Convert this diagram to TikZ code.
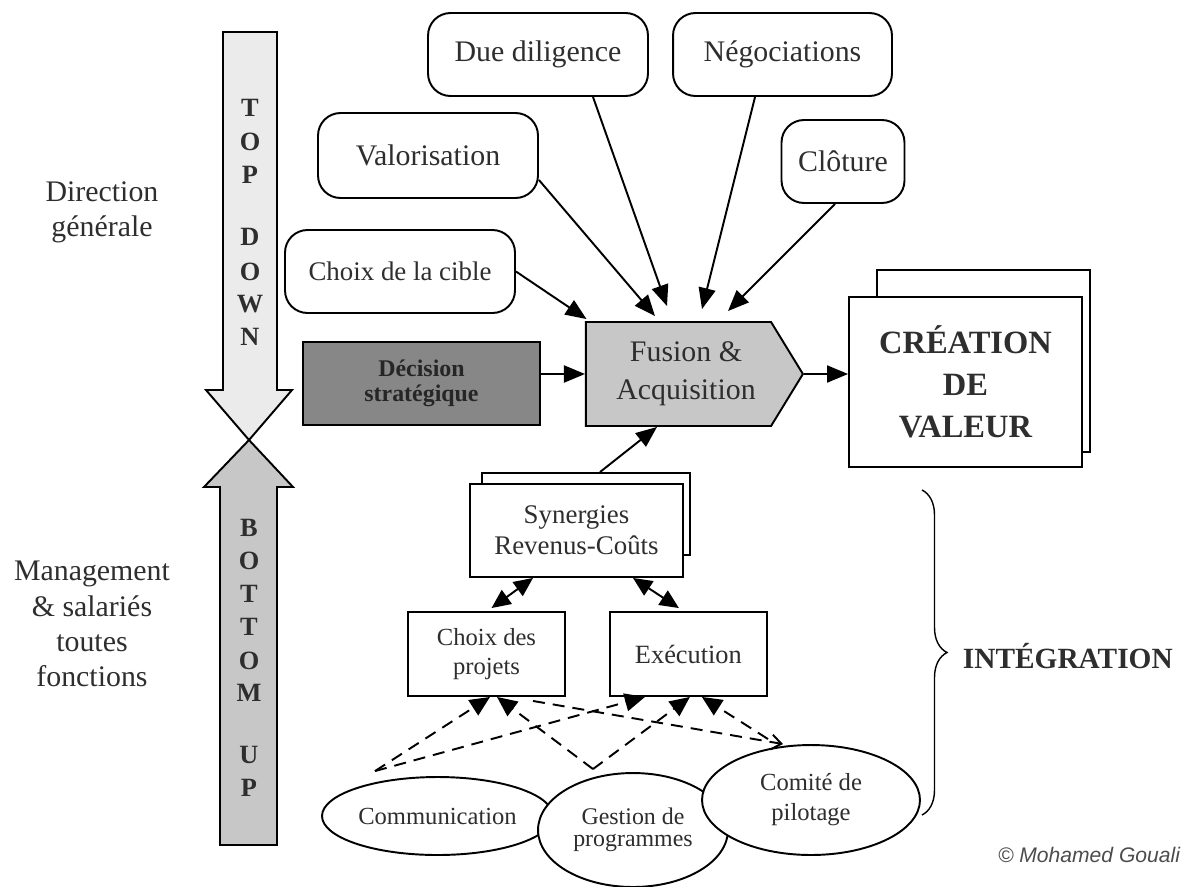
\documentclass[tikz,border=0pt]{standalone}
\usepackage{fontspec}
\setmainfont{Liberation Serif}
\newfontfamily\signature{Liberation Sans}
\usetikzlibrary{arrows.meta,positioning,shapes.geometric,shapes.symbols,decorations.pathreplacing}

\begin{document}
\begin{tikzpicture}[x=0.02cm,y=-0.02cm,line width=1.1pt,text=black!82,
  etape/.style={draw, rounded corners=0.45cm, fill=white, minimum height=1.66cm, inner sep=0pt, font=\fontsize{17}{20}\selectfont},
  boite/.style={draw, fill=white, inner sep=0pt, align=center},
  bulle/.style={draw, ellipse, fill=white, inner sep=0pt, align=center, font=\fontsize{14}{17}\selectfont},
  fleche/.style={-{Triangle[length=0.42cm,width=0.34cm]}},
  double fleche/.style={{Triangle[length=0.38cm,width=0.34cm]}-{Triangle[length=0.38cm,width=0.34cm]}},
  pointille/.style={dash pattern=on 0.24cm off 0.16cm, -{Triangle[length=0.4cm,width=0.36cm]}},
  lettre/.style={font=\bfseries\fontsize{15}{15}\selectfont},
  libelle/.style={align=center, font=\fontsize{17}{20}\selectfont},
]
\useasboundingbox (0,0) rectangle (1192,886);

\draw[fill=black!8] (223,32) -- (277,32) -- (277,390) -- (292,390) -- (249,440) -- (206,390) -- (223,390) -- cycle;
\draw[fill=black!22] (249,440) -- (293,487) -- (277,487) -- (277,845) -- (220,845) -- (220,487) -- (204,487) -- cycle;
\foreach \l/\y in {T/108,O/142,P/175,D/237,O/272,W/304,N/337}
  \node[lettre] (haut\y) at (250,\y) {\l};
\foreach \l/\y in {B/528,O/561,T/594,T/627,O/661,M/693,U/755,P/788}
  \node[lettre] (bas\y) at (249,\y) {\l};

\node[libelle] (direction) at (102,212) {Direction\\générale};
\node[libelle] (management) at (92,624) {Management\\\& salariés\\toutes\\fonctions};

\node[etape, minimum width=4.4cm] (due) at (538,54.5) {Due diligence};
\node[etape, minimum width=4.38cm] (nego) at (782.5,54.5) {Négociations};
\node[etape, minimum width=4.4cm, minimum height=1.7cm] (valo) at (428,155.5) {Valorisation};
\node[etape, minimum width=2.46cm] (clot) at (843,161.5) {Clôture};
\node[etape, minimum width=4.6cm, font=\fontsize{15.3}{18}\selectfont] (cible) at (400,271.5) {Choix de la cible};

\node[boite, fill=black!47, minimum width=4.74cm, minimum height=1.66cm, text=black!85, font=\bfseries\fontsize{13.6}{14}\selectfont] (decision) at (421.5,383.5) {Décision\\stratégique};
\node[draw, signal, signal to=east, signal pointer angle=117, fill=black!22, minimum width=4.34cm, minimum height=2.08cm, inner sep=0pt, align=center, font=\fontsize{17}{21.5}\selectfont] (fusion) at (678.5,374) {\hspace*{0.3cm}Fusion \&\\\hspace*{0.3cm}Acquisition};

\node[boite, minimum width=4.26cm, minimum height=3.64cm] (creationfond) at (983.5,361) {};
\node[boite, minimum width=4.66cm, minimum height=3.4cm, font=\bfseries\fontsize{18.5}{24}\selectfont] (creation) at (965.5,382) {CRÉATION\\DE\\VALEUR};

\node[boite, minimum width=4.16cm, minimum height=1.64cm] (synfond) at (586,514) {};
\node[boite, minimum width=4.26cm, minimum height=1.86cm, font=\fontsize{15.3}{17.5}\selectfont] (synergies) at (576.5,530.5) {Synergies\\Revenus-Coûts};

\node[boite, minimum width=3.14cm, minimum height=1.68cm, font=\fontsize{14}{16.5}\selectfont] (projets) at (486.5,654) {Choix des\\projets};
\node[boite, minimum width=3.14cm, minimum height=1.68cm, font=\fontsize{15}{18}\selectfont, right=0.86cm of projets] (execution) {Exécution};

\node[bulle, minimum width=4.62cm, minimum height=1.56cm] (comm) at (437.5,816) {Communication};
\node[bulle, minimum width=3.8cm, minimum height=2.28cm, font=\fontsize{13.6}{12.8}\selectfont] (gestion) at (633,830) {Gestion de\\programmes};
\node[bulle, minimum width=4.36cm, minimum height=2.2cm] (comite) at (811,800) {Comité de\\pilotage};

\draw[fleche] (cible.east) -- ([xshift=-1.84cm,yshift=0.04cm]fusion.north);
\draw[fleche] ([yshift=-0.49cm]valo.east) -- ([xshift=-0.47cm,yshift=0.1cm]fusion.north);
\draw[fleche] ([xshift=1.1cm]due.south) -- ([xshift=-0.23cm,yshift=0.3cm]fusion.north);
\draw[fleche] ([xshift=-0.55cm]nego.south) -- ([xshift=0.47cm,yshift=0.24cm]fusion.north);
\draw[fleche] ([xshift=-0.16cm]clot.south) -- ([xshift=0.99cm,yshift=0.2cm]fusion.north);
\draw[fleche] (decision.east |- fusion.west) -- (fusion.west);
\draw[fleche] (fusion.east) -- (fusion.east -| creation.west);
\draw[fleche] ([xshift=0.28cm]synfond.north) -- ([xshift=-0.43cm]fusion.south);

\draw[double fleche] ([xshift=-0.87cm]synergies.south) -- ([xshift=0.1cm,yshift=0.06cm]projets.north);
\draw[double fleche] ([xshift=1.13cm]synergies.south) -- ([xshift=-0.19cm,yshift=0.06cm]execution.north);

\draw[pointille] ([xshift=-1.25cm,yshift=0.1cm]comm.north) -- ([xshift=0.07cm]projets.south);
\draw[pointille] ([xshift=-1.25cm,yshift=0.1cm]comm.north) -- ([xshift=-0.87cm]execution.south);
\draw[pointille] ([xshift=-0.8cm,yshift=0.06cm]gestion.north) -- ([xshift=0.21cm]projets.south);
\draw[pointille] ([xshift=-0.8cm,yshift=0.06cm]gestion.north) -- ([xshift=0.03cm]execution.south);
\draw[pointille] ([xshift=-0.86cm,yshift=0.1cm]comite.north) -- ([xshift=0.27cm]execution.south);
\draw[pointille, -{Straight Barb[length=0.2cm,width=0.3cm]}] ([xshift=0.93cm,yshift=-0.08cm]projets.south) -- ([xshift=-0.56cm]comite.north);

\coordinate (accoladehaut) at (922,490);
\coordinate (accoladebas) at (922,815);
\coordinate (accoladepointe) at (947,656);
\draw[line width=0.8pt, decorate, decoration={brace, amplitude=0.5cm}] (accoladehaut) -- (accoladebas);
\node[inner sep=0pt, right=0.3cm of accoladepointe, font=\bfseries\fontsize{16.7}{20}\selectfont] (integration) {INTÉGRATION};

\node[text=black!70, font=\signature\itshape\fontsize{12}{14}\selectfont] (copyright) at (1089,855) {© Mohamed Gouali};

\end{tikzpicture}
\end{document}
